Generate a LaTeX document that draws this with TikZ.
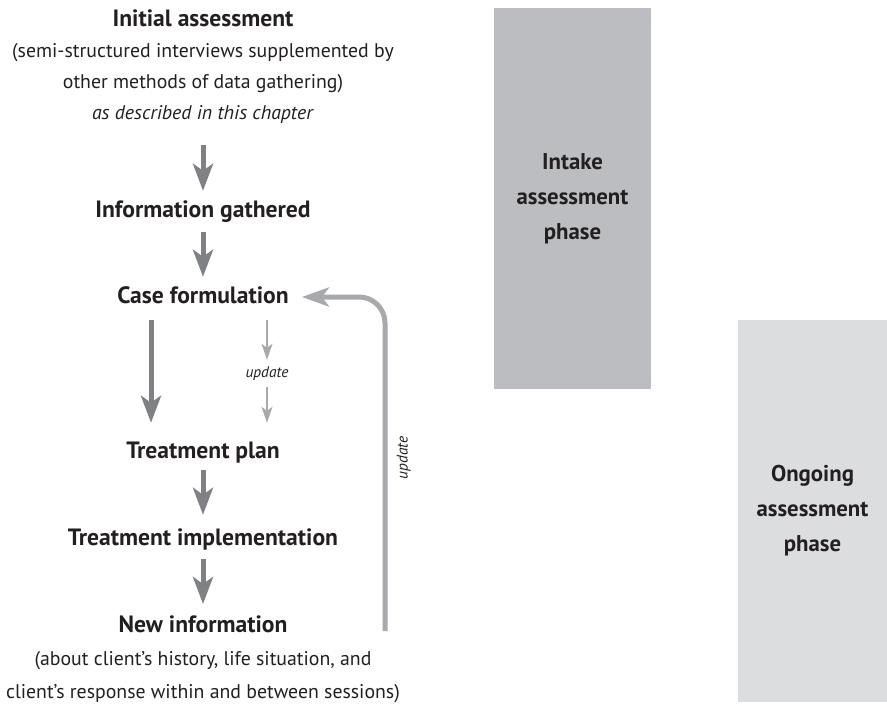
\documentclass[tikz,border=0pt]{standalone}
\usepackage{fontspec}
\setmainfont{PT Sans}
\usepackage{xcolor}
\usepackage{tikz}
\usetikzlibrary{arrows.meta}
\definecolor{ink}{HTML}{231F20}
\definecolor{darkarrow}{HTML}{808184}
\definecolor{lightarrow}{HTML}{A7A9AC}
\definecolor{intakefill}{HTML}{BCBDC1}
\definecolor{ongoingfill}{HTML}{DCDDDF}
\tikzset{
  title/.style={text=ink, font=\bfseries\fontsize{23.6}{32}\selectfont, inner sep=0pt, text height=17pt, text depth=5pt, anchor=base},
  body/.style={text=ink, font=\fontsize{19.8}{31}\selectfont, align=center, inner sep=0pt, anchor=base},
  bigarrow/.style={draw=darkarrow, line width=5pt, -{Stealth[length=27pt,width=20pt,inset=7pt]}},
  thinarrow/.style={draw=lightarrow, line width=1.5pt, -{Stealth[length=16pt,width=11pt,inset=4pt]}},
  backarrow/.style={draw=lightarrow, line width=5pt, rounded corners=26pt, -{Stealth[length=27pt,width=19pt,inset=7pt]}},
  updlab/.style={text=ink, font=\itshape\fontsize{15.4}{17}\selectfont, inner sep=0pt, text height=10pt, text depth=3pt},
  phasebox/.style={text=ink, font=\bfseries\fontsize{22.8}{35}\selectfont, align=center, inner sep=0pt},
}
\begin{document}
\begin{tikzpicture}[x=1pt,y=-1pt]
  \useasboundingbox (0,0) rectangle (887,706);
  \node[phasebox, fill=intakefill, minimum width=157pt, minimum height=381pt] (intake) at (572.5,198.5) {Intake\\assessment\\phase};
  \node[phasebox, fill=ongoingfill, minimum width=149pt, minimum height=382pt] (ongoing) at (812.5,511) {Ongoing\\assessment\\phase};
  \node[body] (init) at (203,120) {{\bfseries\fontsize{23.6}{31}\selectfont Initial assessment}\\(semi-structured interviews supplemented by\\other methods of data gathering)\\\textit{as described in this chapter}};
  \node[title] (info) at (203,218) {Information gathered};
  \node[title] (case) at (203,303) {Case formulation};
  \node[updlab, anchor=base] (upd1) at (267,377) {update};
  \node[title] (plan) at (203,458) {Treatment plan};
  \node[title] (impl) at (203,545) {Treatment implementation};
  \node[body, font=\fontsize{19.8}{33}\selectfont] (new) at (203,698) {{\bfseries\fontsize{23.6}{33}\selectfont New information}\\(about client’s history, life situation, and\\client’s response within and between sessions)};
  \coordinate (fbstart) at (385,631);
  \node[updlab, rotate=90] (upd2) at (404,458) {update};
  \draw[bigarrow, shorten <=21pt, shorten >=10pt] (init.south) -- (info.north);
  \draw[bigarrow, shorten <=9pt, shorten >=9pt] (info.south) -- (case.north);
  \draw[bigarrow, shorten <=12pt, shorten >=18pt] ([xshift=-52pt]case.south) -- ([xshift=-52pt]plan.north);
  \draw[thinarrow, shorten <=12pt, shorten >=7pt] (case.south -| upd1) -- (upd1.north);
  \draw[thinarrow, shorten <=7pt, shorten >=18pt] (upd1.south) -- (plan.north -| upd1);
  \draw[bigarrow, shorten <=7pt, shorten >=13pt] (plan.south) -- (impl.north);
  \draw[bigarrow, shorten <=9pt, shorten >=11pt] (impl.south) -- (new.north);
  \draw[backarrow, shorten >=13pt] (fbstart) |- (case.east);
\end{tikzpicture}
\end{document}
